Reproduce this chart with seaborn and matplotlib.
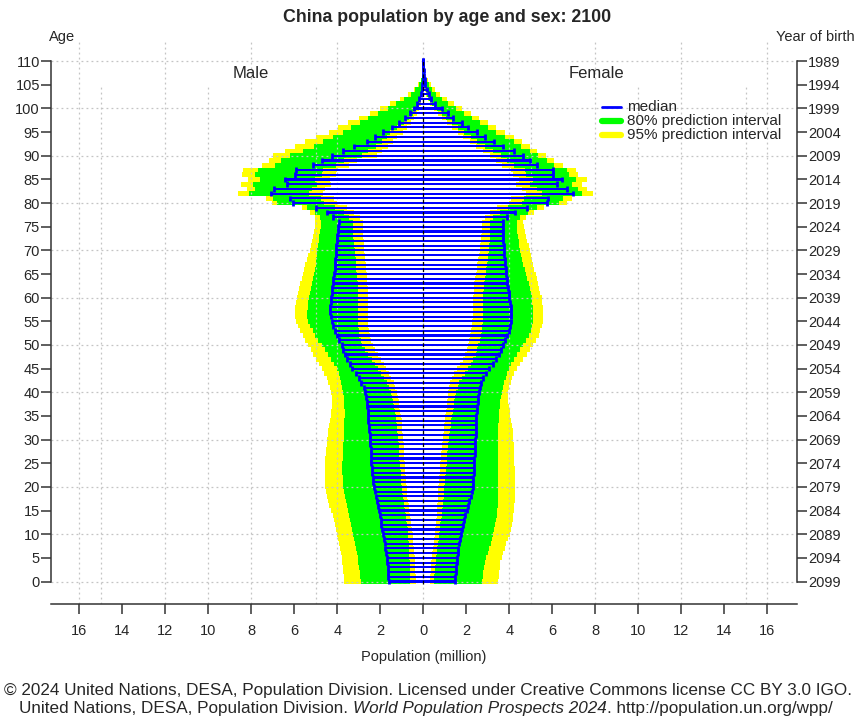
import numpy as np
import pandas as pd
import matplotlib
matplotlib.use("Agg")
import matplotlib.pyplot as plt
import seaborn as sns

# ---------------- data (millions) ----------------
ages = list(range(0, 111))

male_median = [1.60,1.62,1.64,1.66,1.68,1.70,1.73,1.76,1.79,1.83,
               1.87,1.91,1.95,1.99,2.03,2.08,2.12,2.17,2.22,2.26,
               2.30,2.33,2.35,2.37,2.39,2.41,2.42,2.44,2.45,2.47,
               2.48,2.50,2.51,2.53,2.55,2.57,2.59,2.61,2.63,2.65,
               2.70,2.78,2.88,3.00,3.14,3.30,3.43,3.55,3.65,3.73,
               3.80,3.90,4.00,4.10,4.18,4.25,4.30,4.32,4.32,4.30,
               4.28,4.26,4.23,4.20,4.18,4.15,4.13,4.11,4.09,4.07,
               4.06,4.04,4.02,4.00,3.98,3.96,3.92,4.19,4.49,4.99,
               6.07,6.20,7.10,6.94,6.35,6.43,5.97,5.90,5.12,4.73,
               4.26,3.75,3.22,2.63,2.25,1.86,1.47,1.12,0.85,0.62,
               0.44,0.30,0.20,0.13,0.08,0.05,0.03,0.02,0.01,0.006,0.003]
male_u95 = [3.69,3.70,3.72,3.74,3.76,3.78,3.82,3.86,3.90,3.95,
            4.00,4.05,4.10,4.16,4.22,4.30,4.37,4.43,4.48,4.52,
            4.55,4.57,4.58,4.58,4.58,4.57,4.56,4.54,4.52,4.50,
            4.48,4.45,4.42,4.38,4.34,4.30,4.28,4.26,4.25,4.26,
            4.30,4.36,4.42,4.50,4.60,4.72,4.85,5.00,5.12,5.24,
            5.35,5.48,5.60,5.72,5.82,5.90,5.95,5.97,5.96,5.93,
            5.89,5.84,5.78,5.72,5.66,5.60,5.54,5.48,5.42,5.35,
            5.27,5.22,5.18,5.14,5.10,5.06,5.02,5.04,5.27,5.66,
            7.05,7.30,8.63,8.20,8.50,8.15,8.45,8.40,7.50,7.20,
            6.97,6.45,5.97,5.50,5.00,4.40,3.95,3.50,3.00,2.50,
            2.00,1.55,1.08,0.70,0.45,0.23,0.12,0.06,0.03,0.01,0.005]
male_u80 = [2.91,2.93,2.96,2.99,3.02,3.05,3.09,3.13,3.17,3.22,
            3.27,3.32,3.37,3.42,3.47,3.52,3.57,3.61,3.65,3.68,
            3.72,3.74,3.75,3.76,3.76,3.76,3.75,3.74,3.73,3.72,
            3.71,3.70,3.69,3.68,3.67,3.66,3.66,3.67,3.68,3.70,
            3.72,3.76,3.81,3.87,3.94,4.03,4.15,4.28,4.42,4.58,
            4.73,4.88,5.02,5.15,5.26,5.34,5.39,5.40,5.38,5.35,
            5.32,5.28,5.23,5.18,5.13,5.08,5.04,5.00,4.97,4.95,
            4.93,4.90,4.87,4.84,4.81,4.78,4.77,4.80,5.04,5.42,
            6.80,7.00,8.10,7.85,7.90,7.60,7.85,7.70,6.90,6.60,
            6.20,5.60,5.10,4.65,4.20,3.75,3.35,2.95,2.55,2.10,
            1.65,1.25,0.88,0.58,0.37,0.20,0.10,0.05,0.025,0.01,0.004]
male_l80 = [0.60,0.61,0.62,0.63,0.64,0.65,0.66,0.67,0.68,0.69,
            0.70,0.73,0.76,0.79,0.82,0.85,0.88,0.91,0.94,0.97,
            1.00,1.02,1.04,1.06,1.08,1.10,1.12,1.13,1.14,1.15,
            1.16,1.18,1.20,1.22,1.25,1.28,1.32,1.37,1.42,1.47,
            1.52,1.60,1.70,1.82,1.96,2.10,2.25,2.40,2.55,2.70,
            2.85,2.92,2.97,3.00,3.02,3.03,3.03,3.03,3.03,3.03,
            3.02,3.02,3.03,3.05,3.07,3.09,3.11,3.13,3.15,3.17,
            3.19,3.21,3.23,3.25,3.26,3.26,3.26,3.45,3.70,4.10,
            4.60,4.75,5.30,5.20,4.95,5.04,4.70,4.65,4.05,3.70,
            2.87,2.55,2.20,1.90,1.70,1.55,1.20,0.90,0.68,0.50,
            0.35,0.24,0.16,0.10,0.06,0.04,0.02,0.015,0.008,0.004,0.002]
male_l95 = [0.35,0.36,0.37,0.38,0.39,0.40,0.42,0.44,0.46,0.48,
            0.50,0.53,0.56,0.59,0.62,0.65,0.68,0.71,0.74,0.76,
            0.77,0.79,0.81,0.83,0.85,0.87,0.89,0.90,0.91,0.92,
            0.93,0.95,0.97,0.99,1.01,1.04,1.07,1.11,1.15,1.19,
            1.23,1.30,1.38,1.48,1.60,1.72,1.85,1.98,2.11,2.23,
            2.33,2.42,2.48,2.52,2.55,2.56,2.56,2.56,2.56,2.56,
            2.56,2.57,2.58,2.60,2.62,2.64,2.66,2.68,2.70,2.72,
            2.74,2.76,2.78,2.79,2.79,2.79,2.79,2.95,3.20,3.55,
            4.00,4.15,4.65,4.55,4.30,4.34,4.05,4.00,3.45,3.10,
            2.17,1.90,1.65,1.40,1.20,0.94,0.75,0.55,0.42,0.30,
            0.20,0.13,0.09,0.06,0.04,0.02,0.012,0.008,0.004,0.002,0.001]

female_median = [1.47,1.49,1.51,1.53,1.55,1.57,1.60,1.63,1.67,1.71,
                 1.75,1.80,1.85,1.90,1.96,2.02,2.08,2.14,2.20,2.25,
                 2.29,2.31,2.33,2.35,2.36,2.37,2.38,2.39,2.40,2.41,
                 2.42,2.43,2.44,2.45,2.46,2.47,2.49,2.51,2.53,2.55,
                 2.58,2.63,2.70,2.80,2.92,3.07,3.22,3.37,3.50,3.62,
                 3.72,3.82,3.90,3.97,4.02,4.06,4.08,4.08,4.06,4.03,
                 4.00,3.97,3.94,3.91,3.88,3.85,3.83,3.81,3.79,3.77,
                 3.76,3.74,3.72,3.71,3.70,3.69,3.70,3.91,4.27,4.81,
                 5.74,5.81,6.98,6.67,6.20,6.44,6.05,6.05,5.27,4.96,
                 4.65,4.22,3.72,3.29,2.87,2.48,2.09,1.79,1.40,1.16,
                 0.86,0.54,0.38,0.25,0.16,0.10,0.06,0.03,0.015,0.007,0.003]
female_u95 = [3.49,3.50,3.52,3.55,3.59,3.64,3.70,3.78,3.86,3.95,
              4.03,4.08,4.12,4.16,4.19,4.21,4.23,4.25,4.26,4.27,
              4.27,4.27,4.27,4.26,4.25,4.24,4.23,4.22,4.21,4.20,
              4.19,4.17,4.15,4.12,4.09,4.05,4.01,3.98,3.96,3.95,
              3.96,4.00,4.06,4.14,4.24,4.36,4.50,4.65,4.82,4.98,
              5.12,5.25,5.36,5.45,5.52,5.56,5.58,5.58,5.56,5.53,
              5.50,5.45,5.40,5.35,5.29,5.22,5.16,5.10,5.05,5.00,
              4.96,4.90,4.84,4.78,4.72,4.68,4.65,4.80,5.15,5.60,
              6.70,6.90,7.90,7.60,7.40,7.60,7.20,7.10,6.50,6.10,
              5.70,5.30,4.95,4.60,4.20,3.80,3.40,3.00,2.60,2.20,
              1.80,1.45,1.10,0.80,0.55,0.35,0.20,0.10,0.05,0.02,0.008]
female_u80 = [2.75,2.77,2.80,2.84,2.88,2.93,2.99,3.06,3.13,3.20,
              3.26,3.31,3.35,3.39,3.42,3.45,3.47,3.48,3.49,3.49,
              3.49,3.49,3.49,3.49,3.49,3.49,3.49,3.49,3.49,3.49,
              3.49,3.49,3.49,3.49,3.50,3.51,3.53,3.56,3.59,3.62,
              3.65,3.70,3.76,3.83,3.91,4.00,4.10,4.22,4.35,4.50,
              4.65,4.78,4.90,5.00,5.07,5.11,5.12,5.12,5.10,5.07,
              5.04,5.00,4.95,4.90,4.84,4.78,4.72,4.66,4.60,4.55,
              4.50,4.46,4.43,4.40,4.37,4.35,4.34,4.50,4.85,5.30,
              6.30,6.50,7.40,7.20,6.90,7.10,6.80,6.70,6.10,5.75,
              5.35,4.95,4.55,4.20,3.80,3.40,3.00,2.65,2.25,1.90,
              1.50,1.15,0.85,0.60,0.40,0.25,0.14,0.07,0.035,0.015,0.006]
female_l80 = [0.50,0.51,0.53,0.55,0.57,0.59,0.62,0.65,0.68,0.71,
              0.74,0.77,0.80,0.83,0.86,0.88,0.91,0.93,0.95,0.97,
              0.98,1.00,1.02,1.04,1.06,1.08,1.10,1.12,1.14,1.16,
              1.18,1.21,1.24,1.27,1.30,1.33,1.37,1.41,1.45,1.49,
              1.53,1.60,1.68,1.78,1.92,2.09,2.22,2.33,2.43,2.50,
              2.56,2.62,2.67,2.71,2.74,2.76,2.78,2.79,2.79,2.79,
              2.79,2.80,2.82,2.84,2.87,2.90,2.93,2.96,2.99,3.02,
              3.04,3.06,3.08,3.09,3.10,3.10,3.10,3.25,3.55,3.95,
              4.60,4.70,5.50,5.30,4.95,5.10,4.80,4.75,4.20,3.90,
              3.60,3.25,2.85,2.50,2.20,1.90,1.60,1.35,1.05,0.85,
              0.62,0.40,0.28,0.18,0.11,0.07,0.04,0.02,0.01,0.005,0.002]
female_l95 = [0.31,0.32,0.34,0.36,0.38,0.40,0.42,0.45,0.48,0.51,
              0.54,0.56,0.58,0.60,0.62,0.64,0.66,0.67,0.68,0.69,
              0.70,0.72,0.74,0.76,0.78,0.80,0.82,0.84,0.86,0.88,
              0.90,0.92,0.94,0.97,1.00,1.03,1.06,1.09,1.12,1.14,
              1.16,1.20,1.26,1.34,1.44,1.58,1.72,1.85,1.95,2.03,
              2.09,2.14,2.19,2.23,2.26,2.28,2.30,2.32,2.33,2.33,
              2.33,2.34,2.36,2.38,2.41,2.44,2.48,2.52,2.56,2.60,
              2.63,2.66,2.68,2.70,2.71,2.72,2.72,2.85,3.10,3.45,
              4.00,4.10,4.80,4.60,4.30,4.45,4.15,4.10,3.65,3.40,
              3.10,2.80,2.45,2.15,1.85,1.60,1.35,1.12,0.88,0.70,
              0.50,0.32,0.22,0.14,0.09,0.055,0.03,0.015,0.008,0.004,0.002]

xtick_values = list(range(-16, 17, 2))
ytick_ages = list(range(0, 111, 5))
birth_years = [2099 - a for a in ytick_ages]

# ---------------- style ----------------
sns.set_theme(style="white")
plt.rcParams["font.family"] = ["Liberation Sans", "DejaVu Sans"]

BLUE = "#0000ff"
GREEN = "#00ff00"
YELLOW = "#ffff00"
GRID = "#c4c4c4"

W, H = 862, 727
fig = plt.figure(figsize=(W / 100, H / 100), dpi=100)
fig.patch.set_facecolor("white")
ax_left, ax_right_px, ax_top, ax_bot = 51, 796.7, 42, 604
ax = fig.add_axes([ax_left / W, (H - ax_bot) / H, (ax_right_px - ax_left) / W, (ax_bot - ax_top) / H])

df = pd.DataFrame({
    "age": ages,
    "m_med": -np.array(male_median), "m_u95": -np.array(male_u95), "m_u80": -np.array(male_u80),
    "m_l80": -np.array(male_l80), "m_l95": -np.array(male_l95),
    "f_med": female_median, "f_u95": female_u95, "f_u80": female_u80,
    "f_l80": female_l80, "f_l95": female_l95,
})

def bars(col, color, width=1.0, z=1):
    sns.barplot(data=df, x=col, y="age", orient="y", native_scale=True, width=width,
                color=color, saturation=1, errorbar=None, linewidth=0,
                edgecolor="none", ax=ax, zorder=z)

for side in ("m", "f"):
    bars(f"{side}_u95", YELLOW, z=1)
    bars(f"{side}_u80", GREEN, z=1.1)
    bars(f"{side}_l80", YELLOW, z=1.2)
    bars(f"{side}_l95", "white", z=1.3)

YMIN, YMAX = (581.5 - ax_bot) / 4.73, (581.5 - ax_top) / 4.73
XMIN, XMAX = (ax_left - 423.3) / 21.5, (ax_right_px - 423.3) / 21.5

# grid
dot = (0, (1.5, 2.5))
for gx in range(-16, 17, 4):
    ax.plot([gx, gx], [YMIN, YMAX], color=GRID, lw=0.9, ls=dot, zorder=2)
for gx in (-15, -10, -5, 5, 10, 15):
    ax.plot([gx, gx], [YMIN, 105], color=GRID, lw=0.9, ls=dot, zorder=2)
for gy in range(0, 111, 10):
    ax.plot([XMIN, XMAX], [gy, gy], color=GRID, lw=0.9, ls=dot, zorder=2)

# median lines with end caps
for side in ("m", "f"):
    bars(f"{side}_med", BLUE, width=0.45, z=3)
    ax.vlines(df[f"{side}_med"], df["age"] - 0.6, df["age"] + 0.6, color=BLUE, lw=2.0, zorder=3.1)

ax.plot([0, 0], [-0.5, 110.5], color="black", lw=0.9, ls=(0, (3, 2)), zorder=4)

ax.set_xlim(XMIN, XMAX)
ax.set_ylim(YMIN, YMAX)
ax.set_facecolor("white")
ax.grid(False)

# axes / ticks
for s in ("top", "right"):
    ax.spines[s].set_visible(False)
ax.spines["left"].set_bounds(0, 110)
ax.spines["left"].set_linewidth(1.1)
ax.spines["left"].set_color("#333333")
ax.spines["bottom"].set_linewidth(1.1)
ax.spines["bottom"].set_color("#333333")
ax.set_xticks(xtick_values)
ax.set_xticklabels([str(abs(v)) for v in xtick_values])
ax.set_yticks(ytick_ages)
ax.set_yticklabels([str(a) for a in ytick_ages])
ax.tick_params(axis="x", direction="out", length=7.5, width=1.1, color="#333333",
               pad=7, labelsize=10.5, bottom=True)
ax.tick_params(axis="y", direction="out", length=7.5, width=1.1, color="#333333",
               pad=0.5, labelsize=10.5, left=True)
ax.set_xlabel("")
ax.set_ylabel("")

ax2 = ax.twinx()
ax2.set_ylim(YMIN, YMAX)
for s in ("top", "left", "bottom"):
    ax2.spines[s].set_visible(False)
ax2.spines["right"].set_bounds(0, 110)
ax2.spines["right"].set_linewidth(1.1)
ax2.spines["right"].set_color("#333333")
ax2.set_yticks(ytick_ages)
ax2.set_yticklabels([str(y) for y in birth_years])
ax2.tick_params(axis="y", direction="out", length=7.5, width=1.1, color="#333333",
                pad=0.5, labelsize=10.5, right=True)
ax2.grid(False)

# texts
def fx(px):
    return px / W

def fy(py):
    return 1 - py / H

fig.text(fx(447), fy(18), "China population by age and sex: 2100", ha="center", va="center",
         fontsize=12.8, fontweight="bold")
fig.text(fx(62), fy(37), "Age", ha="center", va="center", fontsize=10.5)
fig.text(fx(815), fy(37), "Year of birth", ha="center", va="center", fontsize=10.5)
fig.text(fx(251), fy(73), "Male", ha="center", va="center", fontsize=12)
fig.text(fx(596), fy(73), "Female", ha="center", va="center", fontsize=12)
fig.text(fx(424), fy(657), "Population (million)", ha="center", va="center", fontsize=10.5)

# legend
leg = [("median", BLUE, 2.0), ("80% prediction interval", GREEN, 4.5), ("95% prediction interval", YELLOW, 4.5)]
for i, (lab, col, lw) in enumerate(leg):
    yy = fy(107 + 14 * i)
    fig.add_artist(plt.Line2D([fx(602), fx(621)], [yy, yy], color=col, lw=lw))
    fig.text(fx(627), yy, lab, ha="left", va="center", fontsize=11)

# footer
FOOT = 12.3
fig.text(fx(428), fy(690), "\u00a9 2024 United Nations, DESA, Population Division. Licensed under Creative Commons license CC BY 3.0 IGO.",
         ha="center", va="center", fontsize=FOOT)
parts = [("United Nations, DESA, Population Division. ", "normal"),
         ("World Population Prospects 2024", "italic"),
         (". http://population.un.org/wpp/", "normal")]
renderer = fig.canvas.get_renderer()
texts = []
widths = []
for s, st in parts:
    t = fig.text(0, fy(709), s, ha="left", va="center", fontsize=FOOT, fontstyle=st)
    texts.append(t)
    widths.append(t.get_window_extent(renderer=renderer).width)
total = sum(widths)
x0 = 426 - total / 2
for t, w in zip(texts, widths):
    t.set_x(fx(x0))
    x0 += w

fig.savefig("out.png", dpi=100, facecolor="white")
